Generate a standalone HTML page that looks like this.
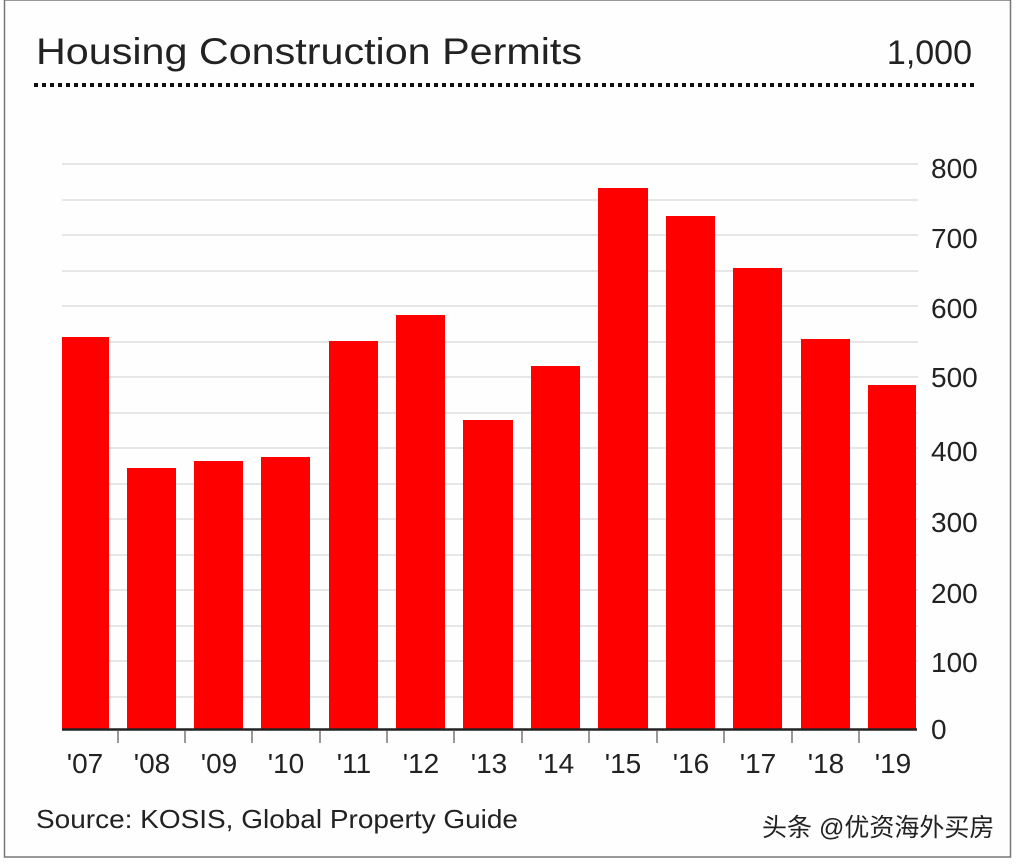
<!DOCTYPE html>
<html><head><meta charset="utf-8"><style>
body{margin:0;background:#fff;}
svg{display:block}
text{font-family:"Liberation Sans","DejaVu Sans",sans-serif;}
</style></head><body>
<svg width="1024" height="864" viewBox="0 0 1024 864">
<rect x="0" y="0" width="1024" height="864" fill="#fff"/>
<rect x="4.5" y="0" width="1006" height="857" fill="#fefefe" stroke="#777" stroke-width="1.5"/>
<text x="36" y="64" font-size="37" fill="#222" textLength="546" lengthAdjust="spacingAndGlyphs">Housing Construction Permits</text>
<text x="972" y="64" font-size="34" fill="#222" text-anchor="end">1,000</text>
<line x1="34" y1="85" x2="974" y2="85" stroke="#111" stroke-width="4" stroke-dasharray="4,4"/>
<g stroke="#ddd" stroke-width="1.5">
<line x1="62" y1="164" x2="918" y2="164"/><line x1="62" y1="200" x2="918" y2="200"/>
<line x1="62" y1="235" x2="918" y2="235"/><line x1="62" y1="271" x2="918" y2="271"/>
<line x1="62" y1="306" x2="918" y2="306"/><line x1="62" y1="342" x2="918" y2="342"/>
<line x1="62" y1="377" x2="918" y2="377"/><line x1="62" y1="413" x2="918" y2="413"/>
<line x1="62" y1="448" x2="918" y2="448"/><line x1="62" y1="484" x2="918" y2="484"/>
<line x1="62" y1="519" x2="918" y2="519"/><line x1="62" y1="555" x2="918" y2="555"/>
<line x1="62" y1="590" x2="918" y2="590"/><line x1="62" y1="626" x2="918" y2="626"/>
<line x1="62" y1="661" x2="918" y2="661"/><line x1="62" y1="697" x2="918" y2="697"/>
</g>
<g fill="#f00">
<rect x="62" y="337" width="47" height="392"/>
<rect x="127" y="468" width="49" height="261"/>
<rect x="194" y="461" width="49" height="268"/>
<rect x="261" y="457" width="49" height="272"/>
<rect x="329" y="341" width="49" height="388"/>
<rect x="396" y="315" width="49" height="414"/>
<rect x="463" y="420" width="50" height="309"/>
<rect x="531" y="366" width="49" height="363"/>
<rect x="598" y="188" width="50" height="541"/>
<rect x="666" y="216" width="49" height="513"/>
<rect x="733" y="268" width="49" height="461"/>
<rect x="801" y="339" width="49" height="390"/>
<rect x="868" y="385" width="48" height="344"/>
</g>
<line x1="62" y1="729.5" x2="917" y2="729.5" stroke="#222" stroke-width="2.5"/>
<g stroke="#999" stroke-width="2">
<line x1="118" y1="731" x2="118" y2="743"/><line x1="185" y1="731" x2="185" y2="743"/>
<line x1="252" y1="731" x2="252" y2="743"/><line x1="320" y1="731" x2="320" y2="743"/>
<line x1="387" y1="731" x2="387" y2="743"/><line x1="454" y1="731" x2="454" y2="743"/>
<line x1="522" y1="731" x2="522" y2="743"/><line x1="589" y1="731" x2="589" y2="743"/>
<line x1="657" y1="731" x2="657" y2="743"/><line x1="724" y1="731" x2="724" y2="743"/>
<line x1="792" y1="731" x2="792" y2="743"/><line x1="859" y1="731" x2="859" y2="743"/>
</g>
<g font-size="28" fill="#222" font-family="Liberation Serif">
<text x="931" y="178">800</text><text x="931" y="248">700</text><text x="931" y="318">600</text>
<text x="931" y="387">500</text><text x="931" y="461">400</text><text x="931" y="532">300</text>
<text x="931" y="603">200</text><text x="931" y="672">100</text><text x="931" y="739">0</text>
</g>
<g font-size="28" fill="#222" text-anchor="middle" style="font-family:'Liberation Serif',serif">
<text x="85" y="773">'07</text><text x="152" y="773">'08</text><text x="219" y="773">'09</text>
<text x="286" y="773">'10</text><text x="354" y="773">'11</text><text x="421" y="773">'12</text>
<text x="489" y="773">'13</text><text x="556" y="773">'14</text><text x="623" y="773">'15</text>
<text x="691" y="773">'16</text><text x="758" y="773">'17</text><text x="826" y="773">'18</text>
<text x="893" y="773">'19</text>
</g>
<text x="36" y="828" font-size="26" fill="#222" textLength="482" lengthAdjust="spacingAndGlyphs">Source: KOSIS, Global Property Guide</text>
<text x="762" y="836" font-size="25" fill="#222" style="font-family:'Liberation Sans','Noto Sans CJK SC',sans-serif">头条 @优资海外买房</text>
</svg>
</body></html>
